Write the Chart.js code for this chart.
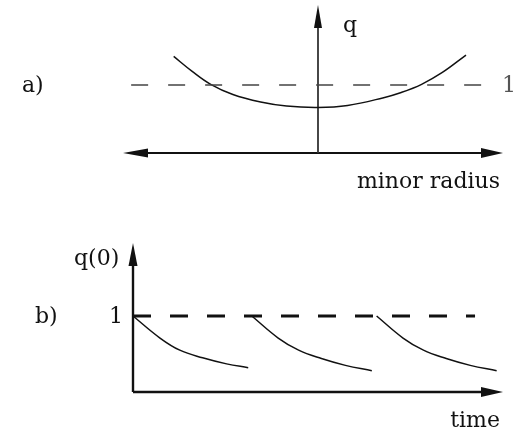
<!DOCTYPE html>
<html><head><meta charset="utf-8">
<script src="https://cdn.jsdelivr.net/npm/chart.js@4/dist/chart.umd.min.js"></script>
<style>
html,body{margin:0;padding:0;background:#fff;}
#wrap{position:relative;width:524px;height:431px;background:#fff;}
canvas{position:absolute;left:0;}
#ca{top:0;}
#cb{top:215px;}
</style></head><body>
<div id="wrap">
<canvas id="ca" width="524" height="215"></canvas>
<canvas id="cb" width="524" height="216"></canvas>
</div>
<script>
// a) q profile across the minor radius (centre at r = 0)
const radius   = [-0.78, -0.68, -0.58, -0.46, -0.31, -0.17, 0.00, 0.16, 0.35, 0.45, 0.56, 0.67, 0.80];
const qProfile = [ 1.42,  1.20,  1.01,  0.86,  0.75,  0.69, 0.67, 0.70, 0.81, 0.89, 1.01, 1.18, 1.44];
const radiusRefEnds = [-1.01, 0.90];
const qRef = 1;

// b) sawtooth of central q(0) over time
const time1 = [0.00, 0.225, 0.39, 0.58, 0.78, 0.96];
const q0_1  = [1.00, 0.71, 0.55, 0.45, 0.37, 0.32];
const time2 = [0.99, 1.21, 1.38, 1.57, 1.77, 1.99];
const q0_2  = [1.00, 0.71, 0.55, 0.44, 0.35, 0.28];
const time3 = [2.03, 2.25, 2.42, 2.61, 2.81, 3.03];
const q0_3  = [1.00, 0.71, 0.55, 0.44, 0.35, 0.28];
const timeRefEnds = [0, 2.85];

// tick / axis labels
const panelLabels = ['a)', 'b)'];
const yAxisTitles = ['q', 'q(0)'];
const xAxisTitles = ['minor radius', 'time'];
const refTickLabel = '1';

const FONT = '22px "DejaVu Serif", "Liberation Serif", serif';

function pts(xs, ys) { return xs.map((x, i) => ({x, y: ys[i]})); }

function arrowHead(ctx, tx, ty, dx, dy, len, half) {
  // tip at (tx,ty), pointing along (dx,dy)
  const bx = tx - dx * len, by = ty - dy * len;
  const nx = -dy, ny = dx;
  ctx.beginPath();
  ctx.moveTo(tx, ty);
  ctx.lineTo(bx + nx * half, by + ny * half);
  ctx.lineTo(bx - nx * half, by - ny * half);
  ctx.closePath();
  ctx.fill();
}

const axesA = {
  id: 'axesA',
  beforeDatasetsDraw(chart) {
    const {ctx, scales: {x, y}} = chart;
    const y0 = y.getPixelForValue(0), x0 = x.getPixelForValue(0);
    ctx.save();
    ctx.strokeStyle = '#111'; ctx.fillStyle = '#111';
    ctx.lineWidth = 2.2;
    ctx.beginPath();
    ctx.moveTo(x.left + 20, y0); ctx.lineTo(x.right - 18, y0);
    ctx.stroke();
    arrowHead(ctx, x.left, y0, -1, 0, 25, 4.5);
    arrowHead(ctx, x.right, y0, 1, 0, 22, 5);
    ctx.lineWidth = 1.8;
    ctx.strokeStyle = '#333';
    ctx.beginPath();
    ctx.moveTo(x0, y0); ctx.lineTo(x0, y.top + 18);
    ctx.stroke();
    ctx.fillStyle = '#111';
    arrowHead(ctx, x0, y.top, 0, -1, 23, 4);
    ctx.restore();
  },
  afterDatasetsDraw(chart) {
    const {ctx, scales: {x, y}} = chart;
    const x0 = x.getPixelForValue(0);
    const y1 = y.getPixelForValue(qRef);
    ctx.save();
    ctx.font = FONT;
    ctx.textBaseline = 'alphabetic';
    ctx.fillStyle = '#111';
    ctx.textAlign = 'left';
    ctx.fillText(yAxisTitles[0], x0 + 25, 32);
    ctx.fillText(panelLabels[0], 22, y1 + 7);
    ctx.fillStyle = '#555';
    ctx.fillText(refTickLabel, 502, y1 + 7);
    ctx.fillStyle = '#111';
    ctx.textAlign = 'right';
    ctx.fillText(xAxisTitles[0], 500, 188);
    ctx.restore();
  }
};

const axesB = {
  id: 'axesB',
  beforeDatasetsDraw(chart) {
    const {ctx, scales: {x, y}} = chart;
    const y0 = y.getPixelForValue(0), x0 = x.getPixelForValue(0);
    ctx.save();
    ctx.strokeStyle = '#111'; ctx.fillStyle = '#111';
    ctx.lineWidth = 2.4;
    ctx.beginPath();
    ctx.moveTo(x0, y0); ctx.lineTo(x.right - 18, y0);
    ctx.stroke();
    arrowHead(ctx, x.right, y0, 1, 0, 22, 5);
    ctx.beginPath();
    ctx.moveTo(x0, y0); ctx.lineTo(x0, y.top + 18);
    ctx.stroke();
    arrowHead(ctx, x0, y.top, 0, -1, 23, 4.5);
    ctx.restore();
  },
  afterDatasetsDraw(chart) {
    const {ctx, scales: {x, y}} = chart;
    const y1 = y.getPixelForValue(qRef);
    ctx.save();
    ctx.font = FONT;
    ctx.textBaseline = 'alphabetic';
    ctx.fillStyle = '#111';
    ctx.textAlign = 'left';
    ctx.fillText(yAxisTitles[1], 74, 50);
    ctx.fillText(panelLabels[1], 35, y1 + 7);
    ctx.fillText(refTickLabel, 109, y1 + 7);
    ctx.textAlign = 'right';
    ctx.fillText(xAxisTitles[1], 500, 212);
    ctx.restore();
  }
};

const hidden = {display: false};
const common = {
  responsive: false,
  animation: false,
  events: [],
  plugins: {legend: hidden, tooltip: {enabled: false}, title: hidden}
};

new Chart(document.getElementById('ca'), {
  type: 'scatter',
  data: {
    datasets: [
      {data: pts(radiusRefEnds, [qRef, qRef]), showLine: true, borderColor: '#444', borderWidth: 1.5,
       borderDash: [17, 20], pointRadius: 0, clip: false},
      {data: pts(radius, qProfile), showLine: true, borderColor: '#111', borderWidth: 1.5,
       tension: 0.4, pointRadius: 0, clip: false}
    ]
  },
  options: Object.assign({}, common, {
    layout: {padding: {left: 123, right: 21, top: 5, bottom: 62}},
    scales: {
      x: {type: 'linear', min: -1.054, max: 1.0, display: false},
      y: {type: 'linear', min: 0, max: 2.176, display: false}
    }
  }),
  plugins: [axesA]
});

new Chart(document.getElementById('cb'), {
  type: 'scatter',
  data: {
    datasets: [
      {data: pts(timeRefEnds, [qRef, qRef]), showLine: true, borderColor: '#111', borderWidth: 2.8,
       borderDash: [18, 19], pointRadius: 0, clip: false},
      {data: pts(time1, q0_1), showLine: true, borderColor: '#111', borderWidth: 1.5,
       tension: 0.4, pointRadius: 0, clip: false},
      {data: pts(time2, q0_2), showLine: true, borderColor: '#111', borderWidth: 1.5,
       tension: 0.4, pointRadius: 0, clip: false},
      {data: pts(time3, q0_3), showLine: true, borderColor: '#111', borderWidth: 1.5,
       tension: 0.4, pointRadius: 0, clip: false}
    ]
  },
  options: Object.assign({}, common, {
    layout: {padding: {left: 133, right: 21, top: 28, bottom: 39}},
    scales: {
      x: {type: 'linear', min: 0, max: 3.083, display: false},
      y: {type: 'linear', min: 0, max: 1.96, display: false}
    }
  }),
  plugins: [axesB]
});
</script>
</body></html>
